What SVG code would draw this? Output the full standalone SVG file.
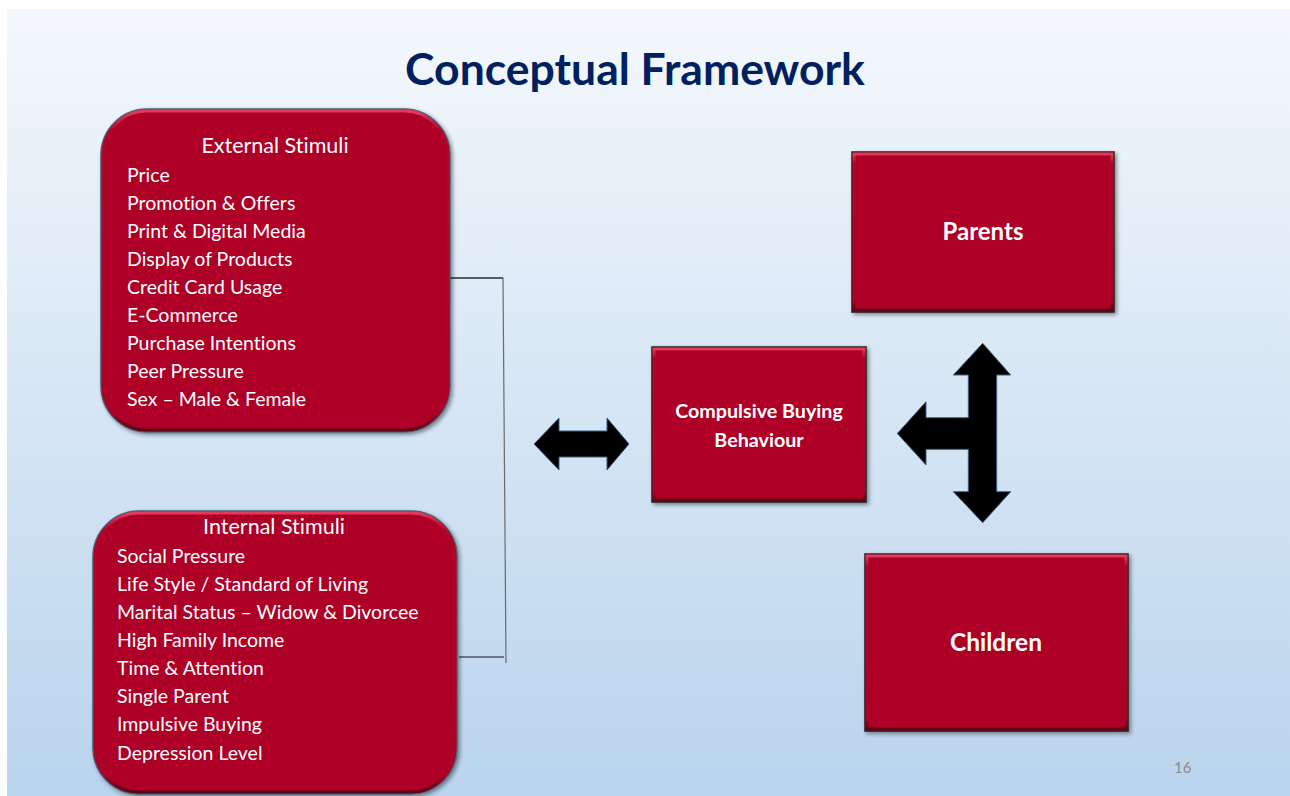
<svg xmlns="http://www.w3.org/2000/svg" width="1290" height="796" viewBox="0 0 1290 796">
  <defs>
    <linearGradient id="bg" x1="0" y1="0" x2="0" y2="1">
      <stop offset="0" stop-color="#f4f8fc"/>
      <stop offset="1" stop-color="#b9d4ed"/>
    </linearGradient>
    <linearGradient id="bevel" x1="0" y1="0" x2="0" y2="1">
      <stop offset="0" stop-color="#e23c5c"/>
      <stop offset="0.06" stop-color="#b0052a"/>
      <stop offset="0.94" stop-color="#a80427"/>
      <stop offset="1" stop-color="#5c0516"/>
    </linearGradient>
    <filter id="shadow" x="-10%" y="-10%" width="120%" height="120%">
      <feDropShadow dx="2" dy="2" stdDeviation="2" flood-color="#000" flood-opacity="0.45"/>
    </filter>
    <style>
      text { font-variant-ligatures: none; }
      .title { font-family: Lato, "Open Sans", sans-serif; font-weight: 700; font-size: 44.5px; fill: #002060; }
      .box { fill: #ae0428; filter: url(#shadow); }
      .round { stroke: #46617f; stroke-width: 1.5; }
      .rect { stroke: #2a1a1e; stroke-width: 1.5; }
      .edge { fill: none; stroke: url(#bevel); stroke-width: 3; }
      .head { font-family: Lato, "Open Sans", sans-serif; font-size: 21.5px; fill: #ffffff; text-anchor: middle; }
      .item { font-family: Lato, "Open Sans", sans-serif; font-size: 19.5px; fill: #ffffff; }
      .bold { font-family: Lato, "Open Sans", sans-serif; font-weight: 700; fill: #ffffff; text-anchor: middle; }
      .arrow { fill: #000000; stroke: #3d5f85; stroke-width: 1; }
      .page { font-family: Lato, "Open Sans", sans-serif; font-size: 15px; fill: #8c8c8c; }
    </style>
  </defs>

  <!-- slide background -->
  <rect x="7" y="9" width="1283" height="787" fill="url(#bg)"/>

  <text class="title" x="635" y="85" text-anchor="middle">Conceptual Framework</text>

  <!-- bracket joining the two stimulus groups, and the block arrows -->
  <g id="connectors">
    <path d="M450 278 H503 L506 663" fill="none" stroke="#6b6b6b" stroke-width="1.2"/>
    <line x1="450" y1="278" x2="503" y2="278" stroke="#111" stroke-width="1.2"/>
    <line x1="459" y1="657" x2="504" y2="657" stroke="#111" stroke-width="1.2"/>
    <path class="arrow" d="M534 444 L559 418 L559 431 L607 431 L607 418 L629 444 L607 470 L607 457 L559 457 L559 470 Z"/>
    <path class="arrow" d="M982.7 343.3 L1010.7 375 L996.7 375 L996.7 491.7 L1010.7 491.7 L982.7 522.7 L953.3 491.7 L968.3 491.7 L968.3 449.3 L926 449.3 L926 465 L897.3 433.5 L926 401.7 L926 417.7 L968.3 417.7 L968.3 375 L953.3 375 Z"/>
  </g>

  <g id="external">
    <rect class="box round" x="101" y="109" width="349" height="323" rx="46"/>
    <rect class="edge" x="103" y="111" width="345" height="319" rx="44"/>
    <text class="head" x="275" y="153">External Stimuli</text>
    <text class="item" x="127" y="182">Price</text>
    <text class="item" x="127" y="210">Promotion &amp; Offers</text>
    <text class="item" x="127" y="238">Print &amp; Digital Media</text>
    <text class="item" x="127" y="266">Display of Products</text>
    <text class="item" x="127" y="294">Credit Card Usage</text>
    <text class="item" x="127" y="322">E-Commerce</text>
    <text class="item" x="127" y="350">Purchase Intentions</text>
    <text class="item" x="127" y="378">Peer Pressure</text>
    <text class="item" x="127" y="406">Sex – Male &amp; Female</text>
  </g>

  <g id="internal">
    <rect class="box round" x="93" y="511" width="364" height="283" rx="46"/>
    <rect class="edge" x="95" y="513" width="360" height="279" rx="44"/>
    <text class="head" x="274" y="534">Internal Stimuli</text>
    <text class="item" x="117" y="563">Social Pressure</text>
    <text class="item" x="117" y="591">Life Style / Standard of Living</text>
    <text class="item" x="117" y="619">Marital Status – Widow &amp; Divorcee</text>
    <text class="item" x="117" y="647">High Family Income</text>
    <text class="item" x="117" y="675">Time &amp; Attention</text>
    <text class="item" x="117" y="703">Single Parent</text>
    <text class="item" x="117" y="731">Impulsive Buying</text>
    <text class="item" x="117" y="760">Depression Level</text>
  </g>

  <g id="compulsive">
    <rect class="box rect" x="652" y="347" width="214" height="155"/>
    <rect class="edge" x="654" y="349" width="210" height="151"/>
    <text class="bold" x="759" y="418" font-size="19.7">Compulsive Buying</text>
    <text class="bold" x="759" y="447" font-size="19.7">Behaviour</text>
  </g>

  <g id="parents">
    <rect class="box rect" x="852" y="152" width="262" height="160"/>
    <rect class="edge" x="854" y="154" width="258" height="156"/>
    <text class="bold" x="983" y="240" font-size="24">Parents</text>
  </g>

  <g id="children">
    <rect class="box rect" x="865" y="554" width="263" height="177"/>
    <rect class="edge" x="867" y="556" width="259" height="173"/>
    <text class="bold" x="996" y="651" font-size="24.5">Children</text>
  </g>

  <text class="page" x="1174" y="773">16</text>
</svg>
